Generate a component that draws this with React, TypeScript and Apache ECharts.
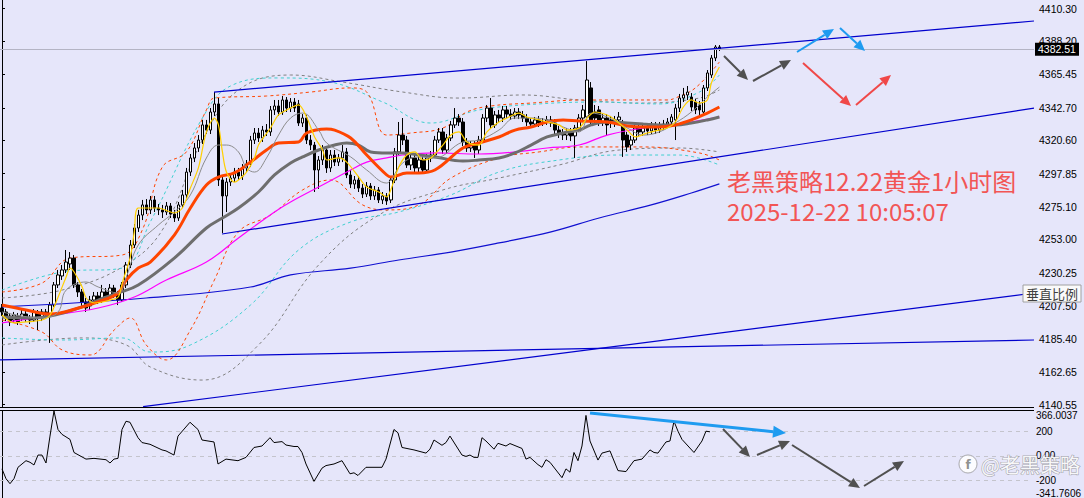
import { useEffect, useRef } from "react";
import * as echarts from "echarts";

// ---------- data ----------
const SLOTS = 258;
const PRICE_MIN = 4138.85;
const PRICE_MAX = 4416.1;
const PRICE_TICKS = [4410.3, 4388.2, 4365.45, 4342.7, 4320.6, 4297.85, 4275.1, 4253.0, 4230.25, 4207.5, 4185.4, 4162.65, 4140.55];
const LAST_PRICE = 4382.51;
const CCI_MIN = -341.7606;
const CCI_MAX = 366.0037;
const CCI_LEVELS = [200, 0, -200];
const CCI_LABEL_POS = [326, 200, 0, -200, -304];
const CCI_LABEL_TEXT = ["366.0037", "200", "0.00", "-200", "-341.7606"];
const TITLE_LINE1 = "老黑策略12.22黄金1小时图";
const TITLE_LINE2 = "2025-12-22 10:05:07";
const WATERMARK = "@老黑策略";
const SCALE_BOX = "垂直比例";

// [open, close, low, high]
const CANDLES: number[][] = [
  [4206.3, 4203.6, 4200.8, 4209.0], [4203.6, 4199.5, 4197.4, 4205.6], [4200.8, 4196.8, 4194.0, 4202.9], [4198.1, 4201.5, 4196.1, 4203.6],
  [4200.8, 4196.8, 4194.7, 4202.9], [4199.5, 4202.2, 4197.4, 4204.9], [4202.2, 4199.5, 4196.8, 4204.2], [4199.5, 4198.1, 4195.4, 4201.5],
  [4198.1, 4203.6, 4196.8, 4205.6], [4203.6, 4199.5, 4191.3, 4204.9], [4199.5, 4203.6, 4197.4, 4205.6], [4203.6, 4201.5, 4198.8, 4205.6],
  [4201.5, 4208.3, 4182.5, 4210.4], [4208.3, 4222.0, 4207.0, 4224.0], [4222.0, 4228.8, 4219.9, 4232.2], [4228.1, 4232.2, 4225.4, 4235.6],
  [4232.2, 4237.6, 4230.1, 4245.8], [4236.3, 4240.3, 4232.2, 4244.4], [4240.3, 4222.0, 4219.9, 4242.4], [4222.0, 4217.2, 4213.8, 4224.0],
  [4217.2, 4210.4, 4207.7, 4219.2], [4210.4, 4206.3, 4203.6, 4213.1], [4207.7, 4211.7, 4204.9, 4214.5], [4211.7, 4214.5, 4209.7, 4217.2],
  [4214.5, 4211.7, 4209.0, 4217.2], [4211.7, 4217.2, 4209.7, 4222.0], [4217.2, 4214.5, 4212.4, 4219.9], [4214.5, 4219.9, 4212.4, 4222.6],
  [4219.9, 4215.1, 4213.1, 4222.0], [4215.1, 4211.7, 4208.3, 4217.9], [4211.7, 4222.0, 4210.4, 4224.0], [4222.0, 4235.6, 4219.9, 4237.6],
  [4235.6, 4249.2, 4233.5, 4252.6], [4249.2, 4260.8, 4247.2, 4263.5], [4260.8, 4269.6, 4258.1, 4273.1], [4269.6, 4276.5, 4266.2, 4279.9],
  [4276.5, 4273.1, 4270.3, 4280.5], [4273.1, 4279.9, 4270.3, 4282.6], [4279.9, 4274.4, 4271.7, 4282.6], [4274.4, 4273.1, 4269.6, 4277.1],
  [4273.1, 4271.7, 4267.6, 4276.5], [4271.7, 4275.8, 4269.6, 4278.5], [4275.8, 4270.3, 4267.6, 4277.8], [4270.3, 4267.6, 4264.9, 4273.1],
  [4267.6, 4276.5, 4265.6, 4278.5], [4276.5, 4283.3, 4274.4, 4286.7], [4283.3, 4298.9, 4281.2, 4301.7], [4298.9, 4308.5, 4296.2, 4311.2],
  [4308.5, 4315.3, 4305.7, 4318.7], [4315.3, 4320.7, 4312.6, 4324.1], [4320.7, 4331.0, 4318.0, 4334.4], [4331.0, 4327.5, 4324.8, 4334.4],
  [4327.5, 4339.8, 4324.8, 4342.5], [4339.8, 4345.3, 4337.1, 4353.4], [4345.3, 4293.5, 4289.4, 4349.3], [4293.5, 4282.6, 4257.4, 4296.2],
  [4282.6, 4292.1, 4271.7, 4294.8], [4292.1, 4294.8, 4289.4, 4297.6], [4294.8, 4298.9, 4292.1, 4301.7], [4298.9, 4296.2, 4293.5, 4301.7],
  [4296.2, 4301.7, 4293.5, 4304.4], [4301.7, 4304.4, 4298.9, 4307.1], [4304.4, 4320.7, 4302.3, 4323.5], [4320.7, 4325.5, 4318.0, 4328.9],
  [4325.5, 4322.1, 4319.4, 4328.9], [4322.1, 4327.5, 4319.4, 4330.3], [4327.5, 4326.2, 4323.5, 4331.6], [4326.2, 4341.2, 4323.5, 4343.9],
  [4341.2, 4343.9, 4337.8, 4348.0], [4343.9, 4339.8, 4337.1, 4348.0], [4339.8, 4348.0, 4337.8, 4350.7], [4348.0, 4342.5, 4339.8, 4350.0],
  [4342.5, 4346.6, 4339.8, 4349.3], [4346.6, 4342.5, 4339.8, 4349.3], [4345.3, 4332.3, 4330.3, 4348.0], [4332.3, 4335.7, 4329.6, 4338.4],
  [4335.7, 4320.7, 4318.0, 4337.8], [4320.7, 4317.3, 4313.9, 4324.1], [4317.3, 4300.3, 4285.3, 4319.4], [4300.3, 4307.1, 4287.4, 4309.8],
  [4307.1, 4313.9, 4303.7, 4317.3], [4313.9, 4301.7, 4298.3, 4316.6], [4301.7, 4310.5, 4298.9, 4313.9], [4310.5, 4305.7, 4303.0, 4313.9],
  [4305.7, 4308.5, 4303.0, 4311.2], [4308.5, 4312.6, 4305.7, 4317.3], [4312.6, 4296.9, 4294.8, 4315.3], [4296.9, 4290.7, 4288.0, 4300.3],
  [4290.7, 4293.5, 4287.4, 4296.2], [4293.5, 4288.0, 4285.3, 4296.2], [4288.0, 4283.9, 4281.2, 4290.7], [4283.9, 4289.4, 4281.9, 4292.1],
  [4289.4, 4282.6, 4279.9, 4291.4], [4282.6, 4286.7, 4279.9, 4289.4], [4286.7, 4279.9, 4277.8, 4288.7], [4279.9, 4282.6, 4277.1, 4285.3],
  [4282.6, 4279.2, 4276.5, 4284.6], [4279.9, 4293.5, 4277.8, 4296.2], [4293.5, 4312.6, 4291.4, 4315.3], [4312.6, 4324.1, 4310.5, 4333.0],
  [4324.1, 4320.7, 4317.3, 4335.7], [4320.7, 4303.7, 4301.7, 4323.5], [4303.7, 4308.5, 4300.3, 4311.2], [4308.5, 4301.7, 4298.9, 4311.2],
  [4301.7, 4307.1, 4298.9, 4309.8], [4307.1, 4300.3, 4297.6, 4309.8], [4300.3, 4308.5, 4298.3, 4311.2], [4308.5, 4310.5, 4305.7, 4313.2],
  [4310.5, 4320.7, 4308.5, 4323.5], [4320.7, 4326.2, 4318.7, 4328.9], [4326.2, 4313.9, 4311.2, 4328.9], [4313.9, 4322.1, 4311.2, 4324.8],
  [4322.1, 4331.0, 4320.0, 4333.7], [4331.0, 4335.7, 4328.9, 4342.5], [4335.7, 4333.0, 4330.3, 4338.4], [4333.0, 4319.4, 4316.6, 4335.7],
  [4319.4, 4315.3, 4312.6, 4322.1], [4315.3, 4317.3, 4312.6, 4320.0], [4317.3, 4313.9, 4308.5, 4320.0], [4313.9, 4320.7, 4311.2, 4323.5],
  [4320.7, 4335.7, 4318.7, 4338.4], [4335.7, 4342.5, 4333.0, 4344.6], [4342.5, 4331.0, 4328.9, 4349.3], [4331.0, 4337.8, 4328.9, 4340.5],
  [4337.8, 4335.7, 4333.0, 4341.2], [4335.7, 4341.2, 4333.0, 4343.9], [4341.2, 4338.4, 4335.7, 4343.9], [4338.4, 4337.1, 4334.4, 4341.8],
  [4337.1, 4339.8, 4335.0, 4342.5], [4339.8, 4337.8, 4335.0, 4342.5], [4337.8, 4335.7, 4333.0, 4340.5], [4335.7, 4333.0, 4330.3, 4338.4],
  [4333.0, 4331.6, 4328.9, 4335.7], [4331.6, 4334.4, 4329.6, 4336.4], [4334.4, 4332.3, 4329.6, 4337.1], [4332.3, 4333.0, 4330.3, 4335.7],
  [4333.0, 4334.4, 4331.0, 4337.1], [4334.4, 4332.3, 4329.6, 4337.1], [4332.3, 4327.5, 4324.8, 4335.0], [4327.5, 4325.5, 4322.1, 4330.3],
  [4325.5, 4324.1, 4320.7, 4328.2], [4324.1, 4326.2, 4320.7, 4328.9], [4326.2, 4323.5, 4320.0, 4328.9], [4323.5, 4328.9, 4308.5, 4331.0],
  [4328.9, 4335.7, 4326.2, 4338.4], [4335.7, 4341.2, 4333.0, 4344.6], [4336.4, 4361.6, 4334.4, 4374.5], [4356.2, 4333.0, 4331.0, 4360.2],
  [4339.8, 4335.7, 4331.6, 4344.6], [4341.2, 4333.0, 4330.3, 4343.9], [4333.0, 4335.7, 4330.3, 4338.4], [4335.7, 4331.0, 4324.1, 4338.4],
  [4334.4, 4332.3, 4328.9, 4337.1], [4332.3, 4334.4, 4329.6, 4337.1], [4334.4, 4336.4, 4331.6, 4339.8], [4332.3, 4320.7, 4309.2, 4334.4],
  [4324.1, 4316.0, 4312.6, 4326.2], [4317.3, 4320.7, 4313.9, 4323.5], [4320.7, 4328.9, 4318.7, 4331.0], [4328.9, 4326.2, 4323.5, 4331.6],
  [4326.2, 4328.9, 4323.5, 4331.6], [4328.9, 4326.9, 4324.1, 4331.0], [4326.9, 4330.3, 4324.8, 4333.0], [4330.3, 4327.5, 4324.8, 4333.0],
  [4327.5, 4330.3, 4325.5, 4333.0], [4330.3, 4331.6, 4327.5, 4334.4], [4331.6, 4333.0, 4328.9, 4335.7], [4333.0, 4336.4, 4330.3, 4338.4],
  [4334.4, 4342.5, 4320.7, 4345.3], [4342.5, 4349.3, 4339.8, 4352.1], [4349.3, 4351.4, 4346.6, 4356.2], [4351.4, 4353.4, 4348.0, 4357.5],
  [4350.0, 4343.2, 4340.5, 4352.7], [4346.6, 4341.2, 4338.4, 4348.7], [4344.6, 4341.2, 4337.8, 4347.3], [4339.8, 4356.2, 4337.8, 4358.2],
  [4356.2, 4366.4, 4354.1, 4368.4], [4365.0, 4376.6, 4363.0, 4378.6], [4376.6, 4384.1, 4374.5, 4385.4], [4384.1, 4382.51, 4381.4, 4385.4],
];

// indicator lines: [bar index, price]
const MA_YELLOW = [[0,4201.5],[3,4196.1],[6,4196.8],[10,4198.1],[12,4201.5],[14,4213.8],[16,4227.4],[17,4233.5],[18,4230.8],[20,4220.6],[21,4213.1],[23,4209.7],[25,4210.4],[27,4211.7],[29,4213.8],[30,4223.3],[32,4241.0],[33,4258.1],[34,4274.4],[39,4274.4],[43,4271.0],[45,4274.4],[47,4288.0],[49,4301.7],[51,4326.2],[53,4335.7],[54,4331.0],[55,4312.6],[56,4298.9],[58,4292.1],[59,4293.5],[61,4298.9],[63,4308.5],[64,4317.3],[67,4328.9],[69,4337.8],[72,4342.5],[74,4344.6],[76,4336.4],[78,4322.8],[80,4313.9],[81,4307.1],[84,4308.5],[86,4305.7],[89,4295.5],[91,4288.7],[94,4285.3],[96,4281.9],[97,4286.7],[99,4302.3],[101,4310.5],[103,4312.6],[105,4307.1],[107,4308.5],[110,4317.3],[112,4324.1],[114,4326.2],[116,4319.4],[119,4317.3],[121,4326.2],[124,4333.0],[126,4335.7],[129,4339.1],[131,4336.4],[134,4334.4],[136,4333.0],[139,4331.0],[141,4327.5],[144,4328.9],[146,4335.7],[148,4339.8],[151,4337.8],[153,4334.4],[156,4327.5],[158,4322.8],[161,4325.5],[163,4326.9],[166,4328.9],[168,4333.0],[170,4343.2],[172,4348.0],[174,4345.9],[176,4348.0],[177,4359.6],[179,4370.5]];
const MA_GRAY_THIN = [[0,4203.6],[5,4200.8],[10,4199.5],[14,4203.6],[16,4218.5],[21,4224.0],[24,4220.6],[29,4216.5],[31,4227.4],[34,4249.2],[39,4262.8],[43,4271.7],[47,4283.3],[51,4308.5],[54,4317.3],[56,4317.3],[59,4312.6],[61,4301.7],[63,4298.9],[66,4308.5],[69,4324.1],[72,4335.7],[75,4339.1],[79,4327.5],[81,4318.7],[87,4309.2],[91,4300.3],[96,4291.4],[97,4293.5],[100,4305.1],[104,4309.2],[108,4308.5],[115,4319.4],[119,4320.7],[124,4327.5],[128,4335.7],[132,4335.7],[136,4334.4],[140,4329.6],[144,4326.2],[147,4339.1],[151,4336.4],[156,4328.9],[160,4324.1],[164,4326.2],[168,4332.3],[172,4339.8],[176,4350.0],[179,4356.8]];
const MA_ORANGE = [[0,4208.3],[6,4204.9],[12,4202.2],[20,4207.0],[24,4210.4],[29,4216.5],[31,4225.4],[34,4233.5],[37,4237.6],[43,4256.0],[47,4274.4],[51,4290.1],[54,4295.5],[58,4298.3],[62,4305.7],[66,4313.9],[69,4318.7],[74,4319.4],[76,4325.5],[81,4328.2],[83,4327.5],[87,4322.1],[91,4310.5],[96,4296.9],[97,4295.5],[101,4298.3],[104,4298.3],[108,4300.3],[115,4315.3],[119,4318.7],[124,4322.8],[128,4327.5],[132,4329.6],[136,4333.0],[140,4334.4],[144,4333.7],[151,4333.0],[156,4330.3],[160,4329.6],[164,4329.6],[168,4331.0],[172,4334.4],[176,4339.1],[179,4343.2]];
const MA_GRAY_THICK = [[0,4200.2],[8,4199.5],[12,4200.8],[16,4203.6],[20,4207.0],[24,4211.7],[29,4216.5],[34,4221.9],[43,4240.3],[51,4260.8],[55,4267.6],[59,4274.4],[64,4285.3],[68,4296.9],[72,4305.1],[75,4309.2],[79,4313.9],[83,4317.3],[86,4318.7],[89,4317.3],[92,4312.6],[96,4311.9],[100,4311.9],[104,4310.5],[108,4309.2],[115,4306.4],[119,4307.1],[124,4308.5],[128,4311.9],[132,4317.3],[136,4322.8],[140,4325.5],[144,4327.5],[147,4331.0],[151,4333.0],[156,4332.3],[160,4331.6],[164,4331.0],[168,4331.0],[172,4332.3],[176,4334.4],[179,4336.4]];
const MA_MAGENTA = [[0,4196.1],[11,4200.8],[24,4206.3],[33,4213.8],[41,4225.4],[51,4237.6],[59,4254.0],[68,4271.7],[72,4278.5],[79,4288.7],[87,4300.3],[91,4305.7],[96,4308.5],[100,4310.5],[108,4311.9],[119,4311.2],[128,4312.6],[136,4315.3],[144,4317.3],[151,4324.1],[160,4328.9],[168,4331.0],[176,4335.0],[179,4336.4]];
const MA_BLUE = [[0,4207.0],[36,4213.1],[62,4220.6],[72,4228.8],[87,4233.5],[99,4239.0],[112,4244.4],[124,4250.6],[137,4258.1],[149,4267.6],[162,4276.5],[172,4284.6],[179,4290.8]];

const BAND_ORANGE_UP = [[0,4217.2],[10,4223.3],[17,4240.3],[30,4242.4],[35,4259.4],[40,4302.3],[46,4312.6],[51,4341.2],[53,4349.3],[66,4350.7],[77,4353.4],[87,4356.2],[91,4353.4],[96,4324.1],[102,4325.5],[110,4328.9],[116,4339.8],[122,4343.9],[132,4345.9],[145,4348.0],[155,4348.0],[166,4348.0],[168,4349.3],[173,4356.2],[179,4373.9]];
const BAND_ORANGE_DN = [[0,4198.1],[10,4189.9],[15,4177.7],[22,4174.3],[28,4191.3],[32,4199.5],[36,4181.1],[41,4170.9],[47,4191.3],[53,4225.4],[59,4258.1],[67,4269.6],[75,4286.7],[82,4293.5],[90,4276.5],[96,4273.1],[104,4276.5],[112,4294.8],[124,4308.5],[134,4312.6],[144,4316.0],[160,4316.0],[174,4311.9],[179,4307.1]];
const BAND_CYAN_UP = [[0,4218.5],[15,4230.8],[30,4233.5],[37,4264.9],[50,4335.7],[57,4357.5],[69,4363.0],[82,4360.2],[95,4346.6],[107,4332.3],[119,4341.2],[134,4345.3],[149,4346.6],[164,4345.3],[174,4353.4],[179,4365.0]];
const BAND_CYAN_DN = [[0,4185.9],[15,4184.5],[30,4185.9],[37,4176.3],[47,4181.1],[62,4208.3],[74,4245.8],[87,4264.9],[99,4271.7],[112,4283.3],[124,4298.9],[139,4307.1],[154,4310.5],[169,4310.5],[179,4303.7]];
const BAND_GRAY_UP = [[0,4213.1],[15,4218.5],[30,4234.2],[40,4259.4],[50,4320.7],[59,4354.8],[72,4365.0],[85,4360.2],[100,4353.4],[114,4349.3],[130,4351.4],[144,4348.0],[160,4345.9],[174,4349.3],[179,4354.8]];
const BAND_GRAY_DN = [[0,4181.1],[20,4185.9],[31,4181.1],[37,4166.1],[50,4157.2],[64,4181.1],[79,4235.6],[94,4269.6],[110,4286.7],[124,4294.8],[139,4303.7],[154,4313.9],[169,4315.3],[179,4312.6]];

// straight trend lines: [bar index, price] end points
const TREND_UPPER = [[52.9, 4353.4], [257.5, 4401.8]];
const TREND_LOWER = [[54.9, 4256.7], [257.5, 4342.5]];
const TREND_FLAT = [[-0.5, 4170.9], [257.5, 4184.5]];
const TREND_STEEP = [[35.2, 4139.1], [257.5, 4216.5]];

// CCI: [bar index, value]
const CCI = [[0,-107],[1,-187],[2,-228],[3,-187],[4,-94],[6,-40],[7,-53],[8,-75],[9,6],[10,6],[11,-59],[12,161],[13,366.0037],[14,215],[15,175],[17,134],[18,27],[21,-27],[23,-21],[26,-32],[27,-59],[28,-27],[29,-21],[30,215],[31,282],[32,274],[34,148],[35,108],[37,94],[40,48],[41,40],[43,6],[44,161],[47,274],[49,215],[50,129],[53,113],[54,-67],[56,-27],[59,-40],[61,-13],[63,68],[65,80],[67,148],[68,108],[70,116],[71,88],[73,76],[74,76],[75,27],[76,-67],[78,-209],[80,-101],[81,-80],[83,-67],[85,-40],[87,-147],[88,-139],[89,-161],[91,-94],[95,-94],[96,-27],[98,215],[99,188],[100,68],[103,48],[106,22],[107,54],[108,129],[110,86],[111,108],[112,161],[115,6],[116,-5],[117,6],[118,-13],[119,-13],[120,148],[121,121],[123,54],[124,102],[126,80],[127,100],[130,60],[131,-27],[132,-13],[134,-72],[135,-94],[136,-32],[137,-53],[140,-179],[141,-107],[142,-134],[143,27],[144,-40],[145,80],[146,330],[147,121],[149,-35],[150,22],[152,40],[154,-121],[156,-129],[158,-40],[160,-27],[162,48],[163,27],[164,22],[166,113],[167,121],[168,282],[169,201],[170,134],[173,27],[175,121],[176,201],[177,196]];

// ---------- helpers ----------
const BG = "#E6E6FA";
const CAT = Array.from({ length: SLOTS }, (_, i) => String(i));

function arrow(x1: number, y1: number, x2: number, y2: number, color: string, w: number, hl = 11, hw = 5) {
  const a = Math.atan2(y2 - y1, x2 - x1);
  const bx = x2 - hl * Math.cos(a);
  const by = y2 - hl * Math.sin(a);
  const px = -Math.sin(a) * hw;
  const py = Math.cos(a) * hw;
  return [
    { type: "line", z: 100, shape: { x1, y1, x2: bx, y2: by }, style: { stroke: color, lineWidth: w } },
    { type: "polygon", z: 100, shape: { points: [[x2, y2], [bx + px, by + py], [bx - px, by - py]] }, style: { fill: color } },
  ];
}

function lineSeries(data: number[][], color: string, width: number, dashed = false, smooth: number | boolean = 0.35, z = 5) {
  return {
    type: "line",
    xAxisIndex: 1,
    yAxisIndex: 0,
    data,
    showSymbol: false,
    symbol: "none",
    smooth,
    clip: true,
    silent: true,
    z,
    lineStyle: { color, width, type: dashed ? [3, 3] : "solid" },
  };
}

export default function App() {
  const ref = useRef<HTMLDivElement>(null);
  useEffect(() => {
    const chart = echarts.init(ref.current!, null, { renderer: "svg" });
    const option: any = {
      animation: false,
      backgroundColor: BG,
      grid: [
        { left: 0, top: 0, width: 1034, height: 407 },
        { left: 0, top: 411, width: 1034, height: 88 },
      ],
      xAxis: [
        { type: "category", gridIndex: 0, data: CAT, boundaryGap: true, show: false },
        { type: "value", gridIndex: 0, min: -0.5, max: SLOTS - 0.5, show: false },
        { type: "value", gridIndex: 1, min: -0.5, max: SLOTS - 0.5, show: false },
      ],
      yAxis: [
        {
          type: "value", gridIndex: 0, position: "right", min: PRICE_MIN, max: PRICE_MAX,
          splitLine: { show: false },
          axisLine: { show: true, lineStyle: { color: "#000", width: 1 } },
          axisTick: { show: true, length: 3, customValues: PRICE_TICKS, lineStyle: { color: "#000" } },
          axisLabel: {
            customValues: PRICE_TICKS, margin: 5, color: "#000", fontSize: 10.5,
            fontFamily: "Liberation Sans, Arial, sans-serif",
            formatter: (v: number) => v.toFixed(2),
          },
        },
        {
          type: "value", gridIndex: 1, position: "right", min: CCI_MIN, max: CCI_MAX,
          splitLine: { show: false },
          axisLine: { show: true, lineStyle: { color: "#000", width: 1 } },
          axisTick: { show: false },
          axisLabel: {
            customValues: CCI_LABEL_POS, margin: 4, color: "#000", fontSize: 10,
            fontFamily: "Liberation Sans, Arial, sans-serif",
            formatter: (v: number) => {
              const k = CCI_LABEL_POS.indexOf(v);
              return k >= 0 ? CCI_LABEL_TEXT[k] : "";
            },
          },
        },
      ],
      series: [
        lineSeries(BAND_GRAY_UP, "#808080", 1, true, 0.4, 2),
        lineSeries(BAND_GRAY_DN, "#808080", 1, true, 0.4, 2),
        lineSeries(BAND_CYAN_UP, "#40D0D0", 1, true, 0.4, 2),
        lineSeries(BAND_CYAN_DN, "#40D0D0", 1, true, 0.4, 2),
        lineSeries(BAND_ORANGE_UP, "#FF4500", 1, true, 0.4, 2),
        lineSeries(BAND_ORANGE_DN, "#FF4500", 1, true, 0.4, 2),
        {
          type: "candlestick",
          xAxisIndex: 0,
          yAxisIndex: 0,
          data: CANDLES,
          barWidth: 3,
          silent: true,
          z: 3,
          itemStyle: { color: "#FFFFFF", color0: "#000000", borderColor: "#000000", borderColor0: "#000000", borderWidth: 1 },
          markLine: {
            silent: true, symbol: "none", label: { show: false },
            lineStyle: { color: "#B4B4C4", width: 1, type: "solid" },
            data: [{ yAxis: LAST_PRICE }],
          },
        },
        lineSeries(MA_BLUE, "#1010D0", 1.2, false, 0.4, 6),
        lineSeries(MA_MAGENTA, "#FF00FF", 1.2, false, 0.4, 6),
        lineSeries(MA_GRAY_THICK, "#6E6E6E", 3, false, 0.4, 6),
        lineSeries(MA_ORANGE, "#FF4500", 3, false, 0.4, 7),
        lineSeries(MA_GRAY_THIN, "#8C8C8C", 1, false, 0.4, 7),
        lineSeries(MA_YELLOW, "#FFD000", 1.2, false, 0.3, 8),
        lineSeries(TREND_UPPER, "#0000CD", 1.2, false, false, 9),
        lineSeries(TREND_LOWER, "#0000CD", 1.2, false, false, 9),
        lineSeries(TREND_FLAT, "#0000CD", 1.2, false, false, 9),
        lineSeries(TREND_STEEP, "#0000CD", 1.2, false, false, 9),
        {
          type: "line",
          xAxisIndex: 2,
          yAxisIndex: 1,
          data: CCI,
          showSymbol: false,
          symbol: "none",
          silent: true,
          lineStyle: { color: "#000", width: 1 },
          z: 5,
          markLine: {
            silent: true, symbol: "none", label: { show: false },
            lineStyle: { color: "#C4C4CC", width: 1, type: [4, 4] },
            data: CCI_LEVELS.map((v) => ({ yAxis: v })),
          },
        },
      ],
    };
    chart.setOption(option);

    const yLast = chart.convertToPixel({ yAxisIndex: 0 }, LAST_PRICE) as number;
    const elements: any[] = [
      // pane separators
      { type: "line", z: 90, shape: { x1: 0, y1: 407.5, x2: 1034, y2: 407.5 }, style: { stroke: "#000", lineWidth: 1 } },
      { type: "line", z: 90, shape: { x1: 0, y1: 410.5, x2: 1034, y2: 410.5 }, style: { stroke: "#000", lineWidth: 1 } },
      // last price tag
      { type: "rect", z: 100, shape: { x: 1035, y: yLast - 6.5, width: 44, height: 13 }, style: { fill: "#000" } },
      {
        type: "text", z: 101, x: 1038, y: yLast,
        style: { text: LAST_PRICE.toFixed(2), fill: "#fff", font: "10.5px 'Liberation Sans', Arial, sans-serif", verticalAlign: "middle" },
      },
      // vertical scale box
      { type: "rect", z: 100, shape: { x: 1023, y: 285, width: 58, height: 17 }, style: { fill: "#FAFAFA", stroke: "#A0A0A0", lineWidth: 1 } },
      {
        type: "text", z: 101, x: 1052, y: 293.5,
        style: { text: SCALE_BOX, fill: "#404040", font: "13px 'Noto Sans CJK SC', sans-serif", align: "center", verticalAlign: "middle" },
      },
      // title texts
      {
        type: "text", z: 100, x: 727, y: 180,
        style: { text: TITLE_LINE1, fill: "#F25555", font: "24px 'Noto Sans CJK SC', sans-serif", verticalAlign: "middle" },
      },
      {
        type: "text", z: 100, x: 727, y: 210,
        style: { text: TITLE_LINE2, fill: "#F25555", font: "24px 'Noto Sans CJK SC', sans-serif", verticalAlign: "middle" },
      },
      // watermark
      { type: "circle", z: 100, shape: { cx: 968, cy: 464, r: 9 }, style: { fill: "rgba(255,255,255,0.85)", stroke: "rgba(120,120,120,0.6)", lineWidth: 1 } },
      {
        type: "text", z: 101, x: 968, y: 465,
        style: { text: "f", fill: "rgba(130,130,130,0.9)", font: "bold 12px 'DejaVu Sans', sans-serif", align: "center", verticalAlign: "middle" },
      },
      {
        type: "text", z: 100, x: 981, y: 464,
        style: {
          text: WATERMARK, fill: "rgba(255,255,255,0.92)", font: "20px 'Noto Sans CJK SC', sans-serif", verticalAlign: "middle",
          stroke: "rgba(110,110,110,0.55)", lineWidth: 1.2,
        },
      },
      // arrows - main pane
      ...arrow(724, 56, 748, 80, "#505050", 2),
      ...arrow(753, 81, 791, 60, "#505050", 2),
      ...arrow(797, 52, 834, 29, "#1E9BF0", 2),
      ...arrow(840, 28, 865, 51, "#1E9BF0", 2),
      ...arrow(803, 63, 851, 106, "#F04848", 2),
      ...arrow(856, 105, 891, 75, "#F04848", 2),
      // arrows - CCI pane
      ...arrow(590, 413, 786, 433, "#1E9BF0", 3, 13, 6),
      ...arrow(723, 429, 750, 457, "#505050", 2),
      ...arrow(757, 455, 790, 441, "#505050", 2),
      ...arrow(792, 445, 860, 488, "#505050", 2),
      ...arrow(864, 486, 904, 461, "#505050", 2),
    ];
    chart.setOption({ graphic: { elements } });
    return () => chart.dispose();
  }, []);
  return (
    <div
      ref={ref}
      style={{ position: "absolute", left: 0, top: 0, width: 1084, height: 498, background: BG }}
    />
  );
}
